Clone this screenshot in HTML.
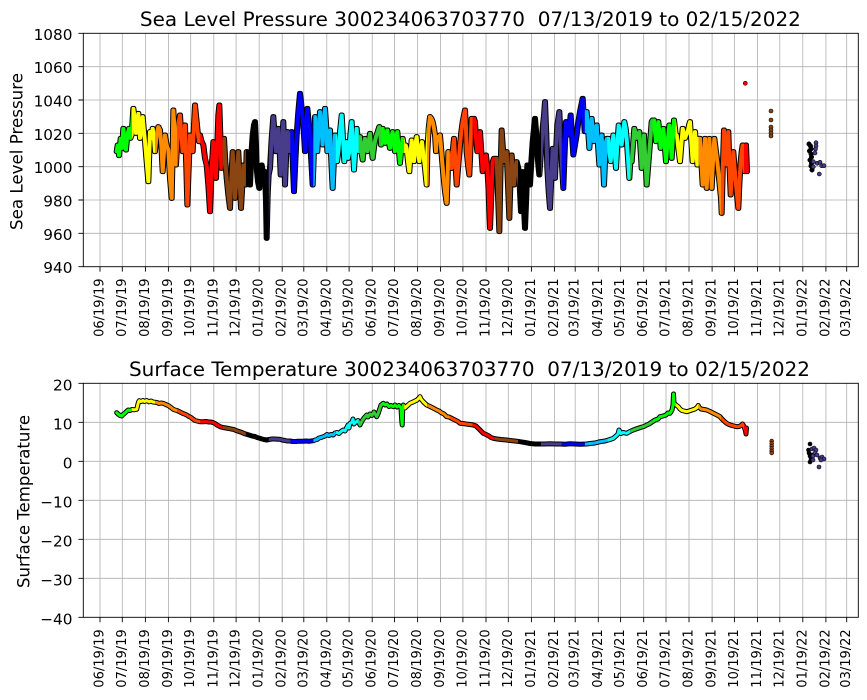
<!DOCTYPE html>
<html><head><meta charset="utf-8"><style>
html,body{margin:0;padding:0;background:#fff;}
svg{display:block;}
text{font-family:"DejaVu Sans","Liberation Sans",sans-serif;fill:#000;}
</style></head><body>
<svg width="867" height="700" viewBox="0 0 867 700" xmlns="http://www.w3.org/2000/svg">
<rect width="867" height="700" fill="#fff"/>
<defs>
<polyline id="p" fill="none" stroke-linejoin="round" stroke-linecap="round" points="50,200 53,180 57,212 62,160 66,190 70,130 74,170 78,195 82,150 87,130 91,160 95,150 100,70 104,100 108,145 112,110 115,85 120,160 124,130 128,95 132,140 135,170 140,230 145,290 148,200 150,140 155,160 158,130 161,150 165,200 170,150 175,125 180,135 184,180 188,260 192,200 195,150 200,180 205,195 210,280 215,340 218,200 220,75 224,140 228,240 232,170 236,110 240,90 244,150 248,200 252,160 255,120 259,250 262,360 266,250 270,150 274,180 278,200 282,120 285,60 289,100 293,140 297,170 300,150 305,170 310,180 315,220 320,240 325,300 330,380 335,250 340,170 344,230 348,280 352,180 355,90 358,60 361,150 364,250 367,200 372,160 376,230 380,280 385,330 390,370 394,280 398,200 402,260 405,340 410,280 415,200 419,290 423,370 427,300 430,240 434,280 437,300 440,200 445,240 450,300 454,210 458,150 462,120 465,110 468,180 470,250 474,290 478,310 482,260 485,240 490,270 495,260 498,350 500,460 503,330 506,270 510,250 515,160 520,95 524,150 528,200 532,150 535,130 539,200 542,270 546,180 550,110 553,200 555,300 559,200 562,140 566,180 570,200 575,140 579,250 582,320 586,230 590,150 595,80 600,25 604,60 608,100 612,150 615,200 619,120 622,70 626,110 630,160 634,230 638,300 640,250 645,95 649,150 652,200 656,130 660,80 664,130 668,180 672,100 675,70 679,130 682,200 686,170 690,135 694,230 698,310 702,220 705,150 707,180 711,230 715,200 720,140 725,90 729,160 733,230 737,200 740,170 744,220 748,200 751,150 755,110 758,180 762,255 766,190 770,130 774,170 777,200 780,155 784,200 788,225 791,190 795,160 798,180 802,200 806,170 810,145 814,190 818,220 823,180 828,155 833,140 838,125 841,150 843,180 848,130 852,160 855,175 859,150 862,135 866,170 870,190 874,160 878,140 882,180 885,200 889,160 892,140 896,190 900,235 904,190 908,160 911,180 913,200 917,180 920,190 924,230 928,260 932,200 935,165 939,200 942,230 946,180 950,155 954,200 958,230 962,190 966,170 970,210 974,240 977,270 980,300 982,200 986,130 990,95 994,100 998,110 1002,130 1005,150 1008,200 1010,160 1015,155 1020,150 1025,210 1030,270 1035,320 1040,355 1043,280 1045,200 1048,230 1051,250 1055,250 1058,200 1062,160 1066,230 1070,300 1075,240 1080,180 1084,140 1088,110 1092,90 1095,75 1098,130 1100,200 1104,240 1108,270 1111,200 1115,100 1118,110 1122,100 1125,110 1128,160 1132,200 1136,170 1140,140 1144,200 1148,260 1153,230 1158,210 1162,250 1165,300 1168,380 1170,430 1174,330 1178,230 1182,220 1185,220 1190,220 1194,330 1198,440 1201,280 1205,135 1208,180 1212,230 1216,210 1220,200 1224,300 1228,400 1231,300 1235,210 1238,250 1242,300 1246,260 1250,230 1255,250 1259,300 1263,380 1266,320 1268,260 1271,350 1275,430 1279,330 1282,240 1286,270 1290,300 1294,230 1298,170 1302,130 1305,100 1309,150 1312,200 1315,240 1318,270 1321,230 1323,200 1328,130 1332,90 1335,50 1339,150 1342,250 1346,320 1350,370 1354,280 1358,190 1362,240 1365,280 1369,180 1372,120 1375,100 1378,80 1381,140 1384,200 1387,260 1390,310 1394,200 1398,110 1402,130 1405,150 1409,120 1412,90 1416,150 1420,210 1425,180 1430,150 1435,110 1440,80 1444,60 1448,40 1451,90 1454,140 1460,80 1464,130 1468,190 1472,140 1475,100 1479,140 1482,170 1486,140 1490,120 1494,180 1498,240 1502,200 1505,150 1509,230 1512,300 1515,230 1518,170 1521,160 1525,160 1528,200 1532,230 1536,190 1540,150 1544,200 1548,250 1552,180 1556,120 1560,150 1565,180 1569,140 1573,110 1577,130 1580,160 1584,220 1588,280 1591,230 1595,230 1599,180 1603,130 1607,145 1610,160 1614,150 1618,140 1622,200 1625,250 1629,200 1632,150 1636,220 1640,300 1644,250 1648,200 1652,150 1655,110 1658,105 1662,105 1665,140 1668,170 1672,140 1675,110 1679,150 1682,190 1686,160 1690,130 1694,180 1698,230 1703,170 1708,120 1712,170 1715,220 1719,150 1722,105 1725,130 1727,150 1730,150 1735,190 1740,230 1744,180 1748,130 1752,145 1755,160 1759,150 1763,140 1767,120 1770,110 1774,170 1778,230 1782,180 1785,140 1789,190 1792,240 1796,160 1800,160 1804,230 1808,300 1812,230 1815,160 1818,230 1820,310 1824,230 1828,160 1832,230 1835,310 1839,230 1843,160 1848,200 1852,230 1856,270 1860,310 1863,340 1865,385 1868,260 1872,135 1876,190 1880,240 1882,190 1885,140 1888,230 1892,330 1896,260 1900,200 1904,250 1908,300 1912,340 1915,370 1918,300 1922,230 1925,200 1928,180 1932,220 1934,260 1936,200 1938,180 1940,230 1941,260"/>
<g id="pp">
<use href="#p" transform="translate(99.5,85) scale(0.333333)"/>
<use href="#p" transform="translate(100.5,85) scale(0.333333)"/>
</g>
<polyline id="t" fill="none" stroke-linejoin="round" stroke-linecap="round" points="116.7,412.7 118,414 120,415.5 121.7,416 123,414.5 125,413 127,411 128.3,410 130,410.5 132,409.5 134,409.8 136.7,409.3 137.5,406 138.5,402 139.3,400.7 141,401.5 143,400.5 144.5,401.5 146.7,400.5 149,401.8 151,401 153,402 155,402.3 157,402.5 159,403.5 161,403 163.3,403.3 165,404.2 167,405 169,406 171,407.5 173.3,409.3 175,410 177,410.5 179,411.5 181,412.5 183,413.5 185,414.2 186.7,415 189,416.5 191,417.5 193,419 195,420.5 197,421 199,421.5 200,421.7 203,421.8 206,421.5 209,422 211,422 213.3,422.7 215,423.5 217,425 219,426 220,426.7 223,427.5 226,428 229,428.5 231,429 233.3,429.3 236,430.5 239,431.5 242,432.5 244,433.5 246.7,434.3 249,435 252,436 255,436.5 257,437.5 260,438.3 262,439 264,439.5 266.7,440 269,439.5 272,439 275,439 278,439.3 280,439.3 282,440 285,440.5 287,441 290,441 293,441.5 296,441.5 298,441.2 300,441.3 303,441.3 306,441 309,441.2 311,441 313.3,440.7 315,440 317,439.5 319,438 321,437.5 323.3,436.7 325,436 327,434.5 329,435.5 331,434.5 333.3,435 335,433 337,432.5 339,433.5 341,431.5 343.3,430 345,431 347,427 348,425 349,428 350,423.3 352,422 353,419 354,424 356,422 358,420.5 360,425 362,421 364,418 366.7,415 368,417 370,414 372,415.5 374,412 376.7,416.7 378,414 380,408 381,405 383.3,403.3 385,405 387,404 389,406.5 391,405.5 393.3,406.7 395,405 397,407 399,405.5 401,408 401.7,420 402.2,425 402.7,410 403.3,405 405,408 407,406 410,403.3 413,402 415,401 417,400 419,398 420,396.7 421,399 423,401.5 426.7,405 429,406 431,407 434,408.5 436.7,410 439,411 441,412.5 444,414 446.7,416.7 449,417 452,418.5 455,420 458.3,421.7 460,423.3 463,423.5 466,424 470,424.5 473.3,425 476,426 479,429 481,431 483.3,433.3 486,434.5 489,436 491,437.5 493.3,438.3 497,439 501,439.5 506.7,440 510,440.5 515,441 520,441.7 525,442.5 530,443.5 535,444 540,444 545,444 550,443.8 555,444 560,444 565,444.2 570,443.8 575,444 580,444.2 586.7,444 590,443.5 595,443 600,441.7 605,441 610,439.5 613.3,438.3 616,436 618,434 619,430 620,431.7 621,433.5 623,432.5 626.7,433.3 629,432 631,431 633.3,430 636,429 639,428 642,427 644,426.5 646.7,425 649,424 652,422 655,420 658,419 660,416.7 663,416 666,415 668,413 670,413.3 672,410 673,405 673.5,394 674,403.3 675,404 676,405 678.3,406.7 680,409 682,410.5 684,411 686.7,411.7 689,411 692,410 695,409 697,407.5 698.3,405.5 699,407 701,409 704,409.5 706.7,410 709,411 712,412.5 715,414 718,415.5 720,416.7 722,419 724,421 726.7,423.3 729,424.5 732,425.5 734,426 736.7,426.7 739,426.5 741,425.5 742.5,424 743.3,425 744.5,428 745.5,431 746,434 746.5,428"/>
<clipPath id="c1" clipPathUnits="userSpaceOnUse"><rect x="0" y="0" width="132" height="700"/></clipPath>
<clipPath id="c2" clipPathUnits="userSpaceOnUse"><rect x="132" y="0" width="23" height="700"/></clipPath>
<clipPath id="c3" clipPathUnits="userSpaceOnUse"><rect x="155" y="0" width="22.3" height="700"/></clipPath>
<clipPath id="c4" clipPathUnits="userSpaceOnUse"><rect x="177.3" y="0" width="23.1" height="700"/></clipPath>
<clipPath id="c5" clipPathUnits="userSpaceOnUse"><rect x="200.4" y="0" width="22.3" height="700"/></clipPath>
<clipPath id="c6" clipPathUnits="userSpaceOnUse"><rect x="222.7" y="0" width="23.1" height="700"/></clipPath>
<clipPath id="c8" clipPathUnits="userSpaceOnUse"><rect x="268.8" y="0" width="21.6" height="700"/></clipPath>
<clipPath id="c9" clipPathUnits="userSpaceOnUse"><rect x="290.4" y="0" width="23" height="700"/></clipPath>
<clipPath id="c10" clipPathUnits="userSpaceOnUse"><rect x="313.4" y="0" width="22.4" height="700"/></clipPath>
<clipPath id="c11" clipPathUnits="userSpaceOnUse"><rect x="335.8" y="0" width="23" height="700"/></clipPath>
<clipPath id="c12" clipPathUnits="userSpaceOnUse"><rect x="358.8" y="0" width="22.3" height="700"/></clipPath>
<clipPath id="c13" clipPathUnits="userSpaceOnUse"><rect x="381.1" y="0" width="23.1" height="700"/></clipPath>
<clipPath id="c14" clipPathUnits="userSpaceOnUse"><rect x="404.2" y="0" width="23" height="700"/></clipPath>
<clipPath id="c15" clipPathUnits="userSpaceOnUse"><rect x="427.2" y="0" width="22.3" height="700"/></clipPath>
<clipPath id="c16" clipPathUnits="userSpaceOnUse"><rect x="449.5" y="0" width="23.1" height="700"/></clipPath>
<clipPath id="c17" clipPathUnits="userSpaceOnUse"><rect x="472.6" y="0" width="22.3" height="700"/></clipPath>
<clipPath id="c18" clipPathUnits="userSpaceOnUse"><rect x="494.9" y="0" width="23.1" height="700"/></clipPath>
<clipPath id="c20" clipPathUnits="userSpaceOnUse"><rect x="541" y="0" width="20.8" height="700"/></clipPath>
<clipPath id="c21" clipPathUnits="userSpaceOnUse"><rect x="561.8" y="0" width="23.1" height="700"/></clipPath>
<clipPath id="c22" clipPathUnits="userSpaceOnUse"><rect x="584.9" y="0" width="22.3" height="700"/></clipPath>
<clipPath id="c23" clipPathUnits="userSpaceOnUse"><rect x="607.2" y="0" width="23.1" height="700"/></clipPath>
<clipPath id="c24" clipPathUnits="userSpaceOnUse"><rect x="630.3" y="0" width="22.3" height="700"/></clipPath>
<clipPath id="c25" clipPathUnits="userSpaceOnUse"><rect x="652.6" y="0" width="23" height="700"/></clipPath>
<clipPath id="c26" clipPathUnits="userSpaceOnUse"><rect x="675.6" y="0" width="23.1" height="700"/></clipPath>
<clipPath id="c27" clipPathUnits="userSpaceOnUse"><rect x="698.7" y="0" width="22.3" height="700"/></clipPath>
<clipPath id="c28" clipPathUnits="userSpaceOnUse"><rect x="721" y="0" width="23" height="700"/></clipPath>
<clipPath id="c29" clipPathUnits="userSpaceOnUse"><rect x="744" y="0" width="123" height="700"/></clipPath>
</defs>

<!-- grid -->
<g stroke="#b0b0b0" stroke-width="0.8" fill="none">
<path d="M100 33.3V266.7M122.3 33.3V266.7M145.4 33.3V266.7M168.4 33.3V266.7M190.7 33.3V266.7M213.8 33.3V266.7M236.1 33.3V266.7M259.2 33.3V266.7M282.2 33.3V266.7M303.8 33.3V266.7M326.8 33.3V266.7M349.1 33.3V266.7M372.2 33.3V266.7M394.5 33.3V266.7M417.6 33.3V266.7M440.6 33.3V266.7M462.9 33.3V266.7M486 33.3V266.7M508.3 33.3V266.7M531.4 33.3V266.7M554.4 33.3V266.7M575.2 33.3V266.7M598.3 33.3V266.7M620.6 33.3V266.7M643.7 33.3V266.7M666 33.3V266.7M689 33.3V266.7M712.1 33.3V266.7M734.4 33.3V266.7M757.5 33.3V266.7M779.8 33.3V266.7M802.8 33.3V266.7M825.9 33.3V266.7M846.7 33.3V266.7"/>
<path d="M83.3 66.7H858.3M83.3 100H858.3M83.3 133.3H858.3M83.3 166.7H858.3M83.3 200H858.3M83.3 233.3H858.3"/>
<path d="M100 383.3V617.3M122.3 383.3V617.3M145.4 383.3V617.3M168.4 383.3V617.3M190.7 383.3V617.3M213.8 383.3V617.3M236.1 383.3V617.3M259.2 383.3V617.3M282.2 383.3V617.3M303.8 383.3V617.3M326.8 383.3V617.3M349.1 383.3V617.3M372.2 383.3V617.3M394.5 383.3V617.3M417.6 383.3V617.3M440.6 383.3V617.3M462.9 383.3V617.3M486 383.3V617.3M508.3 383.3V617.3M531.4 383.3V617.3M554.4 383.3V617.3M575.2 383.3V617.3M598.3 383.3V617.3M620.6 383.3V617.3M643.7 383.3V617.3M666 383.3V617.3M689 383.3V617.3M712.1 383.3V617.3M734.4 383.3V617.3M757.5 383.3V617.3M779.8 383.3V617.3M802.8 383.3V617.3M825.9 383.3V617.3M846.7 383.3V617.3"/>
<path d="M83.3 422.3H858.3M83.3 461.3H858.3M83.3 500.3H858.3M83.3 539.3H858.3M83.3 578.3H858.3"/>
</g>

<!-- pressure series -->
<use href="#pp" stroke="#000" stroke-width="15"/>
<g clip-path="url(#c1)"><use href="#pp" stroke="#00ff00" stroke-width="9"/></g>
<g clip-path="url(#c2)"><use href="#pp" stroke="#ffff00" stroke-width="9"/></g>
<g clip-path="url(#c3)"><use href="#pp" stroke="#ff8c00" stroke-width="9"/></g>
<g clip-path="url(#c4)"><use href="#pp" stroke="#ff4500" stroke-width="9"/></g>
<g clip-path="url(#c5)"><use href="#pp" stroke="#ff0000" stroke-width="9"/></g>
<g clip-path="url(#c6)"><use href="#pp" stroke="#8b4513" stroke-width="9"/></g>
<g clip-path="url(#c8)"><use href="#pp" stroke="#483d8b" stroke-width="9"/></g>
<g clip-path="url(#c9)"><use href="#pp" stroke="#0000ff" stroke-width="9"/></g>
<g clip-path="url(#c10)"><use href="#pp" stroke="#00bfff" stroke-width="9"/></g>
<g clip-path="url(#c11)"><use href="#pp" stroke="#00ffff" stroke-width="9"/></g>
<g clip-path="url(#c12)"><use href="#pp" stroke="#32cd32" stroke-width="9"/></g>
<g clip-path="url(#c13)"><use href="#pp" stroke="#00ff00" stroke-width="9"/></g>
<g clip-path="url(#c14)"><use href="#pp" stroke="#ffff00" stroke-width="9"/></g>
<g clip-path="url(#c15)"><use href="#pp" stroke="#ff8c00" stroke-width="9"/></g>
<g clip-path="url(#c16)"><use href="#pp" stroke="#ff4500" stroke-width="9"/></g>
<g clip-path="url(#c17)"><use href="#pp" stroke="#ff0000" stroke-width="9"/></g>
<g clip-path="url(#c18)"><use href="#pp" stroke="#8b4513" stroke-width="9"/></g>
<g clip-path="url(#c20)"><use href="#pp" stroke="#483d8b" stroke-width="9"/></g>
<g clip-path="url(#c21)"><use href="#pp" stroke="#0000ff" stroke-width="9"/></g>
<g clip-path="url(#c22)"><use href="#pp" stroke="#00bfff" stroke-width="9"/></g>
<g clip-path="url(#c23)"><use href="#pp" stroke="#00ffff" stroke-width="9"/></g>
<g clip-path="url(#c24)"><use href="#pp" stroke="#32cd32" stroke-width="9"/></g>
<g clip-path="url(#c25)"><use href="#pp" stroke="#00ff00" stroke-width="9"/></g>
<g clip-path="url(#c26)"><use href="#pp" stroke="#ffff00" stroke-width="9"/></g>
<g clip-path="url(#c27)"><use href="#pp" stroke="#ff8c00" stroke-width="9"/></g>
<g clip-path="url(#c28)"><use href="#pp" stroke="#ff4500" stroke-width="9"/></g>
<g clip-path="url(#c29)"><use href="#pp" stroke="#ff0000" stroke-width="9"/></g>

<!-- pressure isolated points -->
<g stroke="#000" stroke-width="0.6">
<circle cx="745.3" cy="83.3" r="2" fill="#ff0000"/>
<circle cx="771" cy="111" r="2" fill="#8b4513"/>
<circle cx="771" cy="120" r="2" fill="#8b4513"/>
<circle cx="771" cy="127" r="2" fill="#8b4513"/>
<circle cx="771" cy="130" r="2" fill="#8b4513"/>
<circle cx="771" cy="133" r="2" fill="#8b4513"/>
<circle cx="771" cy="136" r="2" fill="#8b4513"/>
<circle cx="809" cy="144" r="2.2" fill="#000"/>
<circle cx="810.5" cy="146" r="2.2" fill="#000"/>
<circle cx="811" cy="149" r="2.2" fill="#000"/>
<circle cx="809.5" cy="151" r="2.2" fill="#000"/>
<circle cx="811" cy="154" r="2.2" fill="#000"/>
<circle cx="811.5" cy="157" r="2.2" fill="#000"/>
<circle cx="810" cy="160" r="2.2" fill="#000"/>
<circle cx="811.5" cy="163" r="2.2" fill="#000"/>
<circle cx="811" cy="166" r="2.2" fill="#000"/>
<circle cx="812" cy="170" r="2.2" fill="#000"/>
<circle cx="816" cy="142.7" r="2" fill="#483d8b"/>
<circle cx="816" cy="146" r="2" fill="#483d8b"/>
<circle cx="815.5" cy="149" r="2" fill="#483d8b"/>
<circle cx="815" cy="153" r="2" fill="#483d8b"/>
<circle cx="813.3" cy="161.7" r="2" fill="#483d8b"/>
<circle cx="817.3" cy="163.3" r="2" fill="#483d8b"/>
<circle cx="820" cy="162.3" r="2" fill="#483d8b"/>
<circle cx="821.7" cy="165.7" r="2" fill="#483d8b"/>
<circle cx="824" cy="165.7" r="2" fill="#483d8b"/>
<circle cx="819.3" cy="174" r="2" fill="#483d8b"/>
<circle cx="813.3" cy="166.7" r="2" fill="#483d8b"/>
</g>

<!-- temperature series -->
<use href="#t" stroke="#000" stroke-width="5"/>
<g clip-path="url(#c1)"><use href="#t" stroke="#00ff00" stroke-width="3"/></g>
<g clip-path="url(#c2)"><use href="#t" stroke="#ffff00" stroke-width="3"/></g>
<g clip-path="url(#c3)"><use href="#t" stroke="#ff8c00" stroke-width="3"/></g>
<g clip-path="url(#c4)"><use href="#t" stroke="#ff4500" stroke-width="3"/></g>
<g clip-path="url(#c5)"><use href="#t" stroke="#ff0000" stroke-width="3"/></g>
<g clip-path="url(#c6)"><use href="#t" stroke="#8b4513" stroke-width="3"/></g>
<g clip-path="url(#c8)"><use href="#t" stroke="#483d8b" stroke-width="3"/></g>
<g clip-path="url(#c9)"><use href="#t" stroke="#0000ff" stroke-width="3"/></g>
<g clip-path="url(#c10)"><use href="#t" stroke="#00bfff" stroke-width="3"/></g>
<g clip-path="url(#c11)"><use href="#t" stroke="#00ffff" stroke-width="3"/></g>
<g clip-path="url(#c12)"><use href="#t" stroke="#32cd32" stroke-width="3"/></g>
<g clip-path="url(#c13)"><use href="#t" stroke="#00ff00" stroke-width="3"/></g>
<g clip-path="url(#c14)"><use href="#t" stroke="#ffff00" stroke-width="3"/></g>
<g clip-path="url(#c15)"><use href="#t" stroke="#ff8c00" stroke-width="3"/></g>
<g clip-path="url(#c16)"><use href="#t" stroke="#ff4500" stroke-width="3"/></g>
<g clip-path="url(#c17)"><use href="#t" stroke="#ff0000" stroke-width="3"/></g>
<g clip-path="url(#c18)"><use href="#t" stroke="#8b4513" stroke-width="3"/></g>
<g clip-path="url(#c20)"><use href="#t" stroke="#483d8b" stroke-width="3"/></g>
<g clip-path="url(#c21)"><use href="#t" stroke="#0000ff" stroke-width="3"/></g>
<g clip-path="url(#c22)"><use href="#t" stroke="#00bfff" stroke-width="3"/></g>
<g clip-path="url(#c23)"><use href="#t" stroke="#00ffff" stroke-width="3"/></g>
<g clip-path="url(#c24)"><use href="#t" stroke="#32cd32" stroke-width="3"/></g>
<g clip-path="url(#c25)"><use href="#t" stroke="#00ff00" stroke-width="3"/></g>
<g clip-path="url(#c26)"><use href="#t" stroke="#ffff00" stroke-width="3"/></g>
<g clip-path="url(#c27)"><use href="#t" stroke="#ff8c00" stroke-width="3"/></g>
<g clip-path="url(#c28)"><use href="#t" stroke="#ff4500" stroke-width="3"/></g>
<g clip-path="url(#c29)"><use href="#t" stroke="#ff0000" stroke-width="3"/></g>

<!-- temperature isolated points -->
<g stroke="#000" stroke-width="0.6">
<circle cx="771.7" cy="441" r="1.9" fill="#8b4513"/>
<circle cx="771.7" cy="443.5" r="1.9" fill="#8b4513"/>
<circle cx="771.7" cy="446" r="1.9" fill="#8b4513"/>
<circle cx="771.7" cy="448.5" r="1.9" fill="#8b4513"/>
<circle cx="771.7" cy="451" r="1.9" fill="#8b4513"/>
<circle cx="771.7" cy="453" r="1.9" fill="#8b4513"/>
<circle cx="810" cy="444" r="2" fill="#000"/>
<circle cx="808.5" cy="450" r="2" fill="#000"/>
<circle cx="809" cy="453" r="2" fill="#000"/>
<circle cx="810" cy="456" r="2" fill="#000"/>
<circle cx="811" cy="459" r="2" fill="#000"/>
<circle cx="810" cy="462" r="2" fill="#000"/>
<circle cx="812" cy="455" r="2" fill="#000"/>
<circle cx="812" cy="449" r="2" fill="#483d8b"/>
<circle cx="814" cy="448" r="2" fill="#483d8b"/>
<circle cx="816" cy="450" r="2" fill="#483d8b"/>
<circle cx="815" cy="453" r="2" fill="#483d8b"/>
<circle cx="813" cy="456" r="2" fill="#483d8b"/>
<circle cx="817" cy="455" r="2" fill="#483d8b"/>
<circle cx="820" cy="458" r="2" fill="#483d8b"/>
<circle cx="822" cy="457" r="2" fill="#483d8b"/>
<circle cx="824" cy="459" r="2" fill="#483d8b"/>
<circle cx="821" cy="460" r="2" fill="#483d8b"/>
<circle cx="819" cy="467" r="2" fill="#483d8b"/>
<circle cx="813" cy="460" r="2" fill="#483d8b"/>
</g>

<!-- axes frames and ticks -->
<g stroke="#000" stroke-width="0.9" fill="none">
<rect x="83.3" y="33.3" width="775" height="233.4"/>
<rect x="83.3" y="383.3" width="775" height="234"/>
<path d="M78.4 33.3H83.3M78.4 66.7H83.3M78.4 100H83.3M78.4 133.3H83.3M78.4 166.7H83.3M78.4 200H83.3M78.4 233.3H83.3M78.4 266.7H83.3"/>
<path d="M78.4 383.3H83.3M78.4 422.3H83.3M78.4 461.3H83.3M78.4 500.3H83.3M78.4 539.3H83.3M78.4 578.3H83.3M78.4 617.3H83.3"/>
<path d="M100 266.7v4.9M122.3 266.7v4.9M145.4 266.7v4.9M168.4 266.7v4.9M190.7 266.7v4.9M213.8 266.7v4.9M236.1 266.7v4.9M259.2 266.7v4.9M282.2 266.7v4.9M303.8 266.7v4.9M326.8 266.7v4.9M349.1 266.7v4.9M372.2 266.7v4.9M394.5 266.7v4.9M417.6 266.7v4.9M440.6 266.7v4.9M462.9 266.7v4.9M486 266.7v4.9M508.3 266.7v4.9M531.4 266.7v4.9M554.4 266.7v4.9M575.2 266.7v4.9M598.3 266.7v4.9M620.6 266.7v4.9M643.7 266.7v4.9M666 266.7v4.9M689 266.7v4.9M712.1 266.7v4.9M734.4 266.7v4.9M757.5 266.7v4.9M779.8 266.7v4.9M802.8 266.7v4.9M825.9 266.7v4.9M846.7 266.7v4.9"/>
<path d="M100 617.3v4.9M122.3 617.3v4.9M145.4 617.3v4.9M168.4 617.3v4.9M190.7 617.3v4.9M213.8 617.3v4.9M236.1 617.3v4.9M259.2 617.3v4.9M282.2 617.3v4.9M303.8 617.3v4.9M326.8 617.3v4.9M349.1 617.3v4.9M372.2 617.3v4.9M394.5 617.3v4.9M417.6 617.3v4.9M440.6 617.3v4.9M462.9 617.3v4.9M486 617.3v4.9M508.3 617.3v4.9M531.4 617.3v4.9M554.4 617.3v4.9M575.2 617.3v4.9M598.3 617.3v4.9M620.6 617.3v4.9M643.7 617.3v4.9M666 617.3v4.9M689 617.3v4.9M712.1 617.3v4.9M734.4 617.3v4.9M757.5 617.3v4.9M779.8 617.3v4.9M802.8 617.3v4.9M825.9 617.3v4.9M846.7 617.3v4.9"/>
</g>

<!-- titles -->
<text x="470.4" y="26" font-size="19.5" text-anchor="middle" textLength="661" lengthAdjust="spacingAndGlyphs" xml:space="preserve" style="white-space:pre">Sea Level Pressure 300234063703770  07/13/2019 to 02/15/2022</text>
<text x="469.5" y="376" font-size="19.5" text-anchor="middle" textLength="681" lengthAdjust="spacingAndGlyphs" xml:space="preserve" style="white-space:pre">Surface Temperature 300234063703770  07/13/2019 to 02/15/2022</text>

<!-- y labels -->
<text transform="translate(22.5,151.5) rotate(-90)" font-size="16.5" text-anchor="middle" textLength="157" lengthAdjust="spacingAndGlyphs">Sea Level Pressure</text>
<text transform="translate(29.5,501.5) rotate(-90)" font-size="16.5" text-anchor="middle" textLength="173" lengthAdjust="spacingAndGlyphs">Surface Temperature</text>

<!-- y tick labels -->
<g font-size="15.3" text-anchor="end">
<text x="72.5" y="39.8">1080</text>
<text x="72.5" y="73.2">1060</text>
<text x="72.5" y="106.5">1040</text>
<text x="72.5" y="139.8">1020</text>
<text x="72.5" y="173.2">1000</text>
<text x="72.5" y="206.5">980</text>
<text x="72.5" y="239.8">960</text>
<text x="72.5" y="273.2">940</text>
<text x="72.5" y="390.3">20</text>
<text x="72.5" y="429.3">10</text>
<text x="72.5" y="468.3">0</text>
<text x="72.5" y="507.3">−10</text>
<text x="72.5" y="546.3">−20</text>
<text x="72.5" y="585.3">−30</text>
<text x="72.5" y="624.3">−40</text>
</g>

<!-- x tick labels top -->
<g font-size="13" text-anchor="end">
<text transform="translate(103.5,278.5) rotate(-90)">06/19/19</text>
<text transform="translate(125.8,278.5) rotate(-90)">07/19/19</text>
<text transform="translate(148.9,278.5) rotate(-90)">08/19/19</text>
<text transform="translate(171.9,278.5) rotate(-90)">09/19/19</text>
<text transform="translate(194.2,278.5) rotate(-90)">10/19/19</text>
<text transform="translate(217.3,278.5) rotate(-90)">11/19/19</text>
<text transform="translate(239.6,278.5) rotate(-90)">12/19/19</text>
<text transform="translate(262.7,278.5) rotate(-90)">01/19/20</text>
<text transform="translate(285.7,278.5) rotate(-90)">02/19/20</text>
<text transform="translate(307.3,278.5) rotate(-90)">03/19/20</text>
<text transform="translate(330.3,278.5) rotate(-90)">04/19/20</text>
<text transform="translate(352.6,278.5) rotate(-90)">05/19/20</text>
<text transform="translate(375.7,278.5) rotate(-90)">06/19/20</text>
<text transform="translate(398,278.5) rotate(-90)">07/19/20</text>
<text transform="translate(421.1,278.5) rotate(-90)">08/19/20</text>
<text transform="translate(444.1,278.5) rotate(-90)">09/19/20</text>
<text transform="translate(466.4,278.5) rotate(-90)">10/19/20</text>
<text transform="translate(489.5,278.5) rotate(-90)">11/19/20</text>
<text transform="translate(511.8,278.5) rotate(-90)">12/19/20</text>
<text transform="translate(534.9,278.5) rotate(-90)">01/19/21</text>
<text transform="translate(557.9,278.5) rotate(-90)">02/19/21</text>
<text transform="translate(578.7,278.5) rotate(-90)">03/19/21</text>
<text transform="translate(601.8,278.5) rotate(-90)">04/19/21</text>
<text transform="translate(624.1,278.5) rotate(-90)">05/19/21</text>
<text transform="translate(647.2,278.5) rotate(-90)">06/19/21</text>
<text transform="translate(669.5,278.5) rotate(-90)">07/19/21</text>
<text transform="translate(692.5,278.5) rotate(-90)">08/19/21</text>
<text transform="translate(715.6,278.5) rotate(-90)">09/19/21</text>
<text transform="translate(737.9,278.5) rotate(-90)">10/19/21</text>
<text transform="translate(761,278.5) rotate(-90)">11/19/21</text>
<text transform="translate(783.3,278.5) rotate(-90)">12/19/21</text>
<text transform="translate(806.3,278.5) rotate(-90)">01/19/22</text>
<text transform="translate(829.4,278.5) rotate(-90)">02/19/22</text>
<text transform="translate(850.2,278.5) rotate(-90)">03/19/22</text>
</g>

<!-- x tick labels bottom -->
<g font-size="13" text-anchor="end">
<text transform="translate(103.5,629.3) rotate(-90)">06/19/19</text>
<text transform="translate(125.8,629.3) rotate(-90)">07/19/19</text>
<text transform="translate(148.9,629.3) rotate(-90)">08/19/19</text>
<text transform="translate(171.9,629.3) rotate(-90)">09/19/19</text>
<text transform="translate(194.2,629.3) rotate(-90)">10/19/19</text>
<text transform="translate(217.3,629.3) rotate(-90)">11/19/19</text>
<text transform="translate(239.6,629.3) rotate(-90)">12/19/19</text>
<text transform="translate(262.7,629.3) rotate(-90)">01/19/20</text>
<text transform="translate(285.7,629.3) rotate(-90)">02/19/20</text>
<text transform="translate(307.3,629.3) rotate(-90)">03/19/20</text>
<text transform="translate(330.3,629.3) rotate(-90)">04/19/20</text>
<text transform="translate(352.6,629.3) rotate(-90)">05/19/20</text>
<text transform="translate(375.7,629.3) rotate(-90)">06/19/20</text>
<text transform="translate(398,629.3) rotate(-90)">07/19/20</text>
<text transform="translate(421.1,629.3) rotate(-90)">08/19/20</text>
<text transform="translate(444.1,629.3) rotate(-90)">09/19/20</text>
<text transform="translate(466.4,629.3) rotate(-90)">10/19/20</text>
<text transform="translate(489.5,629.3) rotate(-90)">11/19/20</text>
<text transform="translate(511.8,629.3) rotate(-90)">12/19/20</text>
<text transform="translate(534.9,629.3) rotate(-90)">01/19/21</text>
<text transform="translate(557.9,629.3) rotate(-90)">02/19/21</text>
<text transform="translate(578.7,629.3) rotate(-90)">03/19/21</text>
<text transform="translate(601.8,629.3) rotate(-90)">04/19/21</text>
<text transform="translate(624.1,629.3) rotate(-90)">05/19/21</text>
<text transform="translate(647.2,629.3) rotate(-90)">06/19/21</text>
<text transform="translate(669.5,629.3) rotate(-90)">07/19/21</text>
<text transform="translate(692.5,629.3) rotate(-90)">08/19/21</text>
<text transform="translate(715.6,629.3) rotate(-90)">09/19/21</text>
<text transform="translate(737.9,629.3) rotate(-90)">10/19/21</text>
<text transform="translate(761,629.3) rotate(-90)">11/19/21</text>
<text transform="translate(783.3,629.3) rotate(-90)">12/19/21</text>
<text transform="translate(806.3,629.3) rotate(-90)">01/19/22</text>
<text transform="translate(829.4,629.3) rotate(-90)">02/19/22</text>
<text transform="translate(850.2,629.3) rotate(-90)">03/19/22</text>
</g>
</svg>
</body></html>
